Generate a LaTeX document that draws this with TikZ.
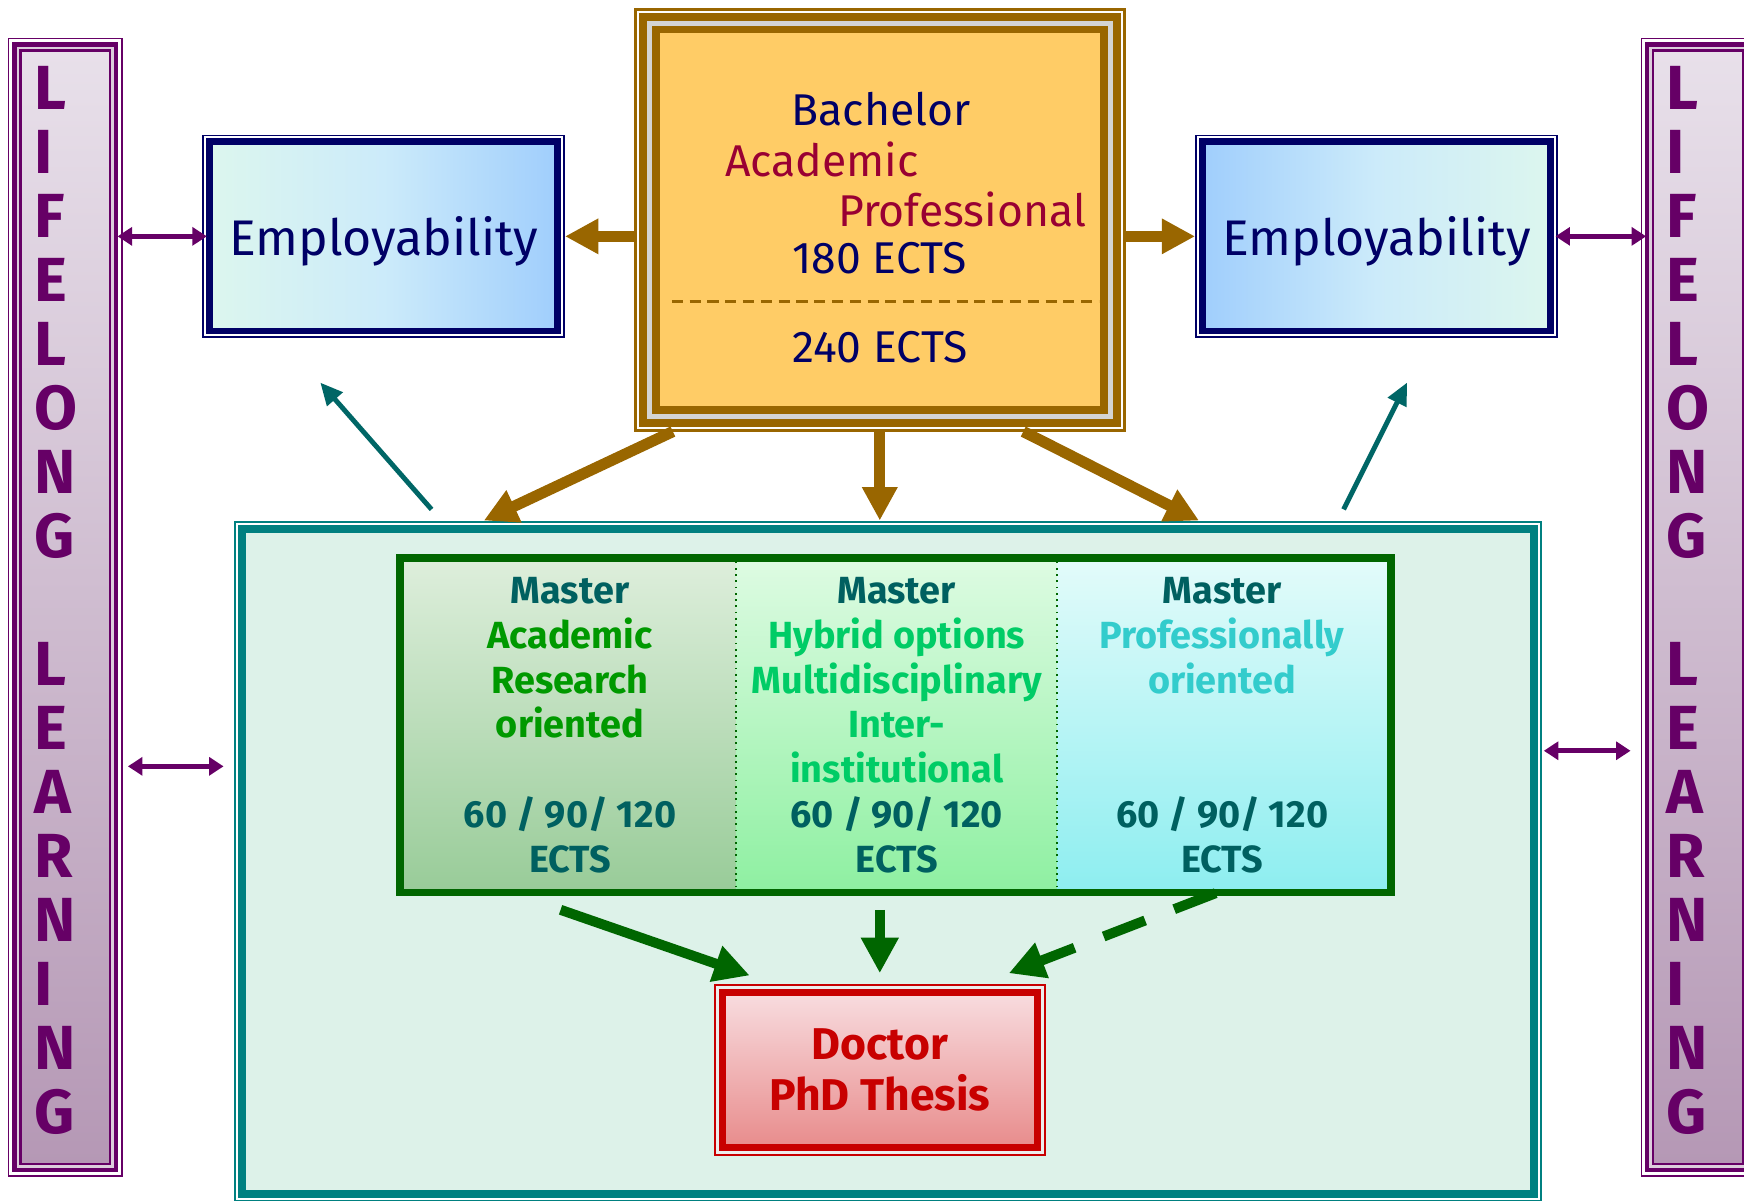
\documentclass[tikz,border=0pt]{standalone}
\usepackage{fontspec}
\setmainfont{Fira Sans}
\usetikzlibrary{positioning,arrows.meta}

\definecolor{empnavy}{HTML}{000066}
\definecolor{empmint}{HTML}{DCF6EE}
\definecolor{empmid}{HTML}{CCEBFA}
\definecolor{empblue}{HTML}{A0CEFC}
\definecolor{bachbrown}{HTML}{996600}
\definecolor{bachgrey}{HTML}{D4D4D4}
\definecolor{bachfill}{HTML}{FFCC66}
\definecolor{bachred}{HTML}{990033}
\definecolor{llpurple}{HTML}{660066}
\definecolor{lllav}{HTML}{DCCEDC}
\definecolor{lltop}{HTML}{E8E0EA}
\definecolor{llbot}{HTML}{B598B5}
\definecolor{ctrteal}{HTML}{008080}
\definecolor{ctrfill}{HTML}{DDF2E9}
\definecolor{tlteal}{HTML}{006666}
\definecolor{masgreen}{HTML}{006600}
\definecolor{masteal}{HTML}{006060}
\definecolor{acgreen}{HTML}{009900}
\definecolor{hygreen}{HTML}{00CC66}
\definecolor{prcyan}{HTML}{33CCCC}
\definecolor{masAtop}{HTML}{DDEEDB}
\definecolor{masAbot}{HTML}{99CC99}
\definecolor{masBtop}{HTML}{DDFBE2}
\definecolor{masBbot}{HTML}{8FF0A2}
\definecolor{masCtop}{HTML}{E2FBFA}
\definecolor{masCbot}{HTML}{8EEEF0}
\definecolor{docred}{HTML}{C80000}
\definecolor{doctop}{HTML}{F8DCDF}
\definecolor{docbot}{HTML}{E88C8C}
\definecolor{docgap}{HTML}{EDEDED}

\tikzset{
  llbar/.style={draw=llpurple, line width=1pt, top color=lltop, bottom color=llbot,
    minimum width=40.25pt, minimum height=500.5pt, inner sep=0pt, outer sep=5.75pt},
  lltext/.style={anchor=north west, inner sep=0pt, align=left, text=llpurple,
    font=\bfseries\fontsize{28}{28.78}\selectfont},
  empbox/.style={draw=empnavy, line width=3pt, minimum width=156.5pt, minimum height=85pt,
    inner sep=0pt, outer sep=3.25pt, text=empnavy, text depth=0pt,
    font=\fontsize{22.5}{26}\selectfont},
  bachbox/.style={draw=bachbrown, double=bachgrey, double distance=2.25pt, line width=3.5pt,
    fill=bachfill, minimum width=207.25pt, minimum height=176.75pt, inner sep=0pt,
    outer sep=6.875pt},
  btext/.style={anchor=base, inner sep=0pt, font=\fontsize{20}{24}\selectfont},
  ctrbox/.style={draw=ctrteal, line width=3.6pt, fill=ctrfill, minimum width=580.8pt,
    minimum height=299.3pt, inner sep=0pt, outer sep=3.6pt},
  mascol/.style={minimum height=147pt, inner sep=0pt, outer sep=0pt, align=center,
    text=masteal, font=\bfseries\fontsize{17}{20.15}\selectfont},
  docbox/.style={draw=docred, line width=3.15pt, top color=doctop, bottom color=docbot,
    minimum width=141.35pt, minimum height=69.35pt, inner sep=0pt, outer sep=3.825pt,
    align=center, text=docred, font=\bfseries\fontsize{20}{22.5}\selectfont},
  brarrow/.style={draw=bachbrown, line width=5pt, >={Triangle[length=15pt,width=15pt]}, ->},
  pparrow/.style={draw=llpurple, line width=2.35pt, >={Triangle[length=6.5pt,width=8pt]}, <->},
  tlarrow/.style={draw=tlteal, line width=2.2pt, >={Triangle[length=10pt,width=9pt]}, ->},
  grarrow/.style={draw=masgreen, line width=4.5pt, >={Triangle[length=16pt,width=16pt]}, ->}
}

\begin{document}
\begin{tikzpicture}[x=0.5pt, y=-0.5pt]
    \useasboundingbox (0,0) rectangle (1568,1079);
    % Master container
    \node[ctrbox] (ctr) at (798,774.5) {};
    % Master columns
    \node[mascol, minimum width=149.5pt, top color=masAtop, bottom color=masAbot] (masA)
        at (512.5,652)
        {Master\\\textcolor{acgreen}{Academic}\\\textcolor{acgreen}{Research}\\
         \textcolor{acgreen}{oriented}\\[20.15pt]60 / 90/ 120\\ECTS};
    \node[mascol, minimum width=144.25pt, top color=masBtop, bottom color=masBbot,
        right=0pt of masA] (masB)
        {Master\\\textcolor{hygreen}{Hybrid options}\\\textcolor{hygreen}{Multidisciplinary}\\
         \textcolor{hygreen}{Inter-}\\\textcolor{hygreen}{institutional}\\60 / 90/ 120\\ECTS};
    \node[mascol, minimum width=148.25pt, top color=masCtop, bottom color=masCbot,
        right=0pt of masB] (masC)
        {Master\\\textcolor{prcyan}{Professionally}\\\textcolor{prcyan}{oriented}\\[40.3pt]
         60 / 90/ 120\\ECTS};
    \draw[masgreen, line width=3.5pt] ([shift={(-3.5,-3.5)}]masA.north west)
        rectangle ([shift={(3.5,3.5)}]masC.south east);
    \foreach \m in {masA,masB}
        \draw[masgreen, dotted, line width=0.8pt] (\m.north east) -- (\m.south east);
    % Doctor
    \node[docbox] (doc) at (791,962) {Doctor\\PhD Thesis};
    % Lifelong learning bars
    \node[llbar] (llL) at (58.75,546) {};
    \node[llbar] (llR) at (1526.75,546) {};
    \node[lltext] (llLt) at (31,59) {L\\I\\F\\E\\L\\O\\N\\G\\[28.78pt]L\\E\\A\\R\\N\\I\\N\\G};
    \node[lltext] (llRt) at (1498,59) {L\\I\\F\\E\\L\\O\\N\\G\\[28.78pt]L\\E\\A\\R\\N\\I\\N\\G};
    % Employability
    \node[empbox, left color=empmint, right color=empblue, middle color=empmid] (empL)
        at (345,212.5) {Employability};
    \node[empbox, left color=empblue, right color=empmint, middle color=empmid] (empR)
        at (1237.5,212.5) {Employability};
    % Bachelor
    \node[bachbox] (bach) at (791,197.5) {};
    \node[btext, text=empnavy] (bachName) at (792,113) {Bachelor};
    \node[btext, text=bachred] (bachAc) at (739,159) {Academic};
    \node[btext, text=bachred] (bachPr) at (865,204) {Professional};
    \node[btext, text=empnavy] (ects180) at (791,246) {180 ECTS};
    \node[btext, text=empnavy] (ects240) at (791,326) {240 ECTS};
    \draw[bachbrown, line width=1.5pt, dash pattern=on 5pt off 3pt] (604,271) -- (988,271);
    % Outer frames
    \foreach \n/\i/\w/\col in {llL/0.75/1.5/llpurple, llL/2.75/2.5/white, llL/6/4/llpurple,
        llL/9.25/2.5/lllav, llR/0.75/1.5/llpurple, llR/2.75/2.5/white, llR/6/4/llpurple,
        llR/9.25/2.5/lllav, empL/0.75/1.5/empnavy, empL/2.5/2/white, empR/0.75/1.5/empnavy,
        empR/2.5/2/white, bach/1.25/2.5/bachbrown, bach/3.5/2/white, ctr/0.9/1.8/ctrteal,
        ctr/2.7/1.8/white, doc/0.9/1.8/docred, doc/3.15/2.7/docgap}
        \draw[draw=\col, line width=\w*0.5pt] ([shift={(\i,\i)}]\n.north west)
            rectangle ([shift={(-\i,-\i)}]\n.south east);
    % Bachelor arrows
    \draw[brarrow] (bach.west |- empL.east) -- (empL.east);
    \draw[brarrow] (bach.east |- empR.west) -- (empR.west);
    \draw[brarrow] ([xshift=17.5pt]bach.south west) -- ([xshift=112.5pt]ctr.north west);
    \draw[brarrow] (bach.south) -- (ctr.north -| bach.south);
    \draw[brarrow] ([xshift=-46pt]bach.south east) -- ([xshift=-154pt]ctr.north east);
    % Lifelong learning links
    \draw[pparrow, shorten <=-2.4pt, shorten >=-2pt] (llL.east |- empL.west) -- (empL.west);
    \draw[pparrow, shorten <=-1pt, shorten >=-2.5pt] (empR.east) -- (llR.west |- empR.east);
    \draw[pparrow, shorten <=2.25pt, shorten >=4.5pt] (llL.east |- 0,689) -- (ctr.west |- 0,689);
    \draw[pparrow, shorten <=1pt, shorten >=4.5pt] (ctr.east |- 0,675) -- (llR.west |- 0,675);
    % Master to employability
    \coordinate (tlA) at (388,458);
    \coordinate (tlB) at (288,344);
    \coordinate (trA) at (1208,458);
    \coordinate (trB) at (1265,344);
    \draw[tlarrow] (tlA) -- (tlB);
    \draw[tlarrow] (trA) -- (trB);
    % Master to doctor
    \draw[grarrow] ([shift={(-8.5,19)}]masA.south) -- ([shift={(32,-8)}]doc.north west);
    \draw[grarrow, shorten <=9.5pt, shorten >=5pt] (masB.south -| doc.north) -- (doc.north);
    \draw[grarrow, dash pattern=on 20pt off 14pt] ([shift={(-5.75,4)}]masC.south)
        -- ([shift={(-33,-10)}]doc.north east);
\end{tikzpicture}
\end{document}
